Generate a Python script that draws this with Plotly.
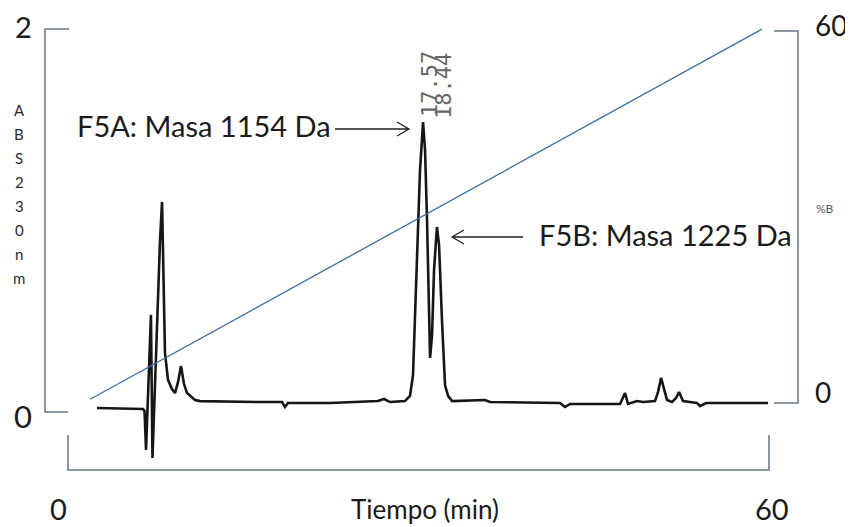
import plotly.graph_objects as go

# ---------------- data ----------------
time_min = [2.48, 6.42, 6.55, 6.68, 7.10, 7.23, 7.87, 8.05, 8.30, 8.56, 8.90, 9.16, 9.42, 9.67,
            9.93, 10.19, 10.87, 11.30, 16.43, 18.32, 18.57, 18.83, 22.43, 26.53, 27.05, 27.56,
            28.84, 29.27, 29.53, 29.70, 29.87, 30.13, 30.39, 30.56, 30.73, 30.86, 30.99, 31.16,
            31.33, 31.58, 31.76, 32.01, 32.27, 32.53, 32.87, 35.69, 36.12, 42.11, 42.54, 42.97,
            47.25, 47.68, 47.93, 48.70, 49.22, 50.24, 50.50, 50.76, 51.02, 51.27, 51.70, 52.04,
            52.30, 52.64, 53.84, 54.10, 54.61, 59.92]
abs_au = [0.021, 0.016, 0.005, -0.198, 0.507, -0.240, 0.888, 1.097, 0.308, 0.167, 0.120, 0.099, 0.157, 0.240,
          0.146, 0.099, 0.063, 0.057, 0.052, 0.052, 0.026, 0.047, 0.047, 0.057, 0.068, 0.052,
          0.057, 0.084, 0.193, 0.480, 0.830, 1.264, 1.514, 1.368, 1.003, 0.533, 0.282, 0.402,
          0.742, 0.966, 0.872, 0.480, 0.141, 0.084, 0.057, 0.063, 0.052, 0.047, 0.026, 0.042,
          0.042, 0.099, 0.042, 0.057, 0.052, 0.057, 0.104, 0.178, 0.115, 0.063, 0.052, 0.073,
          0.104, 0.057, 0.047, 0.031, 0.047, 0.047]

gradient_time = [1.9, 59.4]
gradient_pct_b = [0.6, 60.3]

time_ticks = [0, 60]
abs_ticks = [0, 2]
pctb_ticks = [0, 60]

peak_labels = ["F5A: Masa 1154 Da", "F5B: Masa 1225 Da"]
retention_labels = ["17.57", "18.44"]
abs_title = "ABS230nm"
pctb_title = "%B"
time_title = "Tiempo (min)"

# ---------------- geometry (page-pixel anchors of the scales) ----------------
W, H = 853, 527
OFF = 8                      # the page body margin that shifts the figure
X0_PX, X60_PX = 68, 769      # time 0 and 60
Y0_PX, Y2_PX = 412, 29       # absorbance 0 and 2
B0_PX, B60_PX = 403, 31      # %B 0 and 60


def xd(px):
    return (px - X0_PX) * 60.0 / (X60_PX - X0_PX)


def yd(py):
    return (Y0_PX - py) * 2.0 / (Y0_PX - Y2_PX)


def bd(py):
    return (B0_PX - py) * 60.0 / (B0_PX - B60_PX)


FONT = "Lato, 'Open Sans', sans-serif"
BRACKET = "#6b7687"

fig = go.Figure()

fig.add_trace(go.Scatter(x=gradient_time, y=gradient_pct_b, yaxis="y2", mode="lines",
                         line=dict(color="#3f6fa3", width=1.3), hoverinfo="skip"))
fig.add_trace(go.Scatter(x=time_min, y=abs_au, mode="lines",
                         line=dict(color="#161616", width=2.6), hoverinfo="skip"))

shapes = []
# left bracket (absorbance)
shapes.append(dict(type="path", xref="x", yref="y",
                   path=f"M {xd(X0_PX + 1)},{abs_ticks[1]} L {xd(45)},{abs_ticks[1]} "
                        f"L {xd(45)},{abs_ticks[0]} L {time_ticks[0]},{abs_ticks[0]}",
                   line=dict(color=BRACKET, width=1.5)))
# right bracket (%B)
shapes.append(dict(type="path", xref="x", yref="y2",
                   path=f"M {xd(774)},{pctb_ticks[1]} L {xd(798)},{pctb_ticks[1]} "
                        f"L {xd(798)},{pctb_ticks[0]} L {xd(774)},{pctb_ticks[0]}",
                   line=dict(color=BRACKET, width=1.5)))
# bottom bracket (time)
shapes.append(dict(type="path", xref="x", yref="y",
                   path=f"M {time_ticks[0]},{yd(435)} L {time_ticks[0]},{yd(470)} "
                        f"L {time_ticks[1]},{yd(470)} L {time_ticks[1]},{yd(435)}",
                   line=dict(color=BRACKET, width=1.5)))
# arrows
ay1 = yd(129)
shapes.append(dict(type="path", xref="x", yref="y",
                   path=f"M {xd(335)},{ay1} L {xd(409)},{ay1} M {xd(397)},{yd(122)} "
                        f"L {xd(409)},{ay1} L {xd(397)},{yd(136)}",
                   line=dict(color="#222", width=1.3)))
ay2 = yd(237)
shapes.append(dict(type="path", xref="x", yref="y",
                   path=f"M {xd(523)},{ay2} L {xd(452)},{ay2} M {xd(464)},{yd(230)} "
                        f"L {xd(452)},{ay2} L {xd(464)},{yd(244)}",
                   line=dict(color="#222", width=1.3)))

ann = []
# tick labels
ann.append(dict(x=xd(23), y=abs_ticks[1], yshift=3, text=str(abs_ticks[1]), font=dict(size=29)))
ann.append(dict(x=xd(23), y=abs_ticks[0], yshift=-4, text=str(abs_ticks[0]), font=dict(size=31)))
ann.append(dict(x=xd(813), y=pctb_ticks[1], yref="y2", yshift=6, xanchor="left",
                text=str(pctb_ticks[1]), font=dict(size=28)))
ann.append(dict(x=xd(813), y=pctb_ticks[0], yref="y2", yshift=11, xanchor="left",
                text=str(pctb_ticks[0]), font=dict(size=28)))
ann.append(dict(x=time_ticks[0], xshift=-10, y=yd(508), text=str(time_ticks[0]), font=dict(size=29)))
ann.append(dict(x=time_ticks[1], xshift=3, y=yd(508), text=str(time_ticks[1]), font=dict(size=29)))
# axis titles
ann.append(dict(x=xd(425), y=yd(509), text=time_title, font=dict(size=26)))
for i, ch in enumerate(abs_title):
    ann.append(dict(x=xd(19), y=yd(110 + 24 * i), text=ch, font=dict(size=15, color="#2a2a2a")))
ann.append(dict(x=xd(825), y=yd(208), text=pctb_title, font=dict(size=12, color="#555")))
# peak labels
ann.append(dict(x=xd(333), y=yd(125), xanchor="right", text=peak_labels[0], font=dict(size=29)))
ann.append(dict(x=xd(537), y=yd(234), xanchor="left", text=peak_labels[1], font=dict(size=29)))
# retention times (rotated)
ann.append(dict(x=xd(429), y=yd(84), text=retention_labels[0], textangle=-90,
                font=dict(size=22, color="#666", family="'DejaVu Sans Mono', monospace")))
ann.append(dict(x=xd(443), y=yd(86), text=retention_labels[1], textangle=-90,
                font=dict(size=22, color="#666", family="'DejaVu Sans Mono', monospace")))

for a in ann:
    a.setdefault("xref", "x")
    a.setdefault("yref", "y")
    a["showarrow"] = False
    a["font"].setdefault("family", FONT)
    a["font"].setdefault("color", "#1a1a1a")

fig.update_layout(
    width=W, height=H,
    margin=dict(l=0, r=0, t=0, b=0),
    paper_bgcolor="white", plot_bgcolor="white",
    showlegend=False,
    xaxis=dict(range=[xd(OFF), xd(OFF + W)], visible=False, showgrid=False, zeroline=False),
    yaxis=dict(range=[yd(OFF + H), yd(OFF)], visible=False, showgrid=False, zeroline=False),
    yaxis2=dict(range=[bd(OFF + H), bd(OFF)], overlaying="y", side="right", visible=False,
                showgrid=False, zeroline=False),
    shapes=shapes,
    annotations=ann,
)

fig.write_html("out.html")
